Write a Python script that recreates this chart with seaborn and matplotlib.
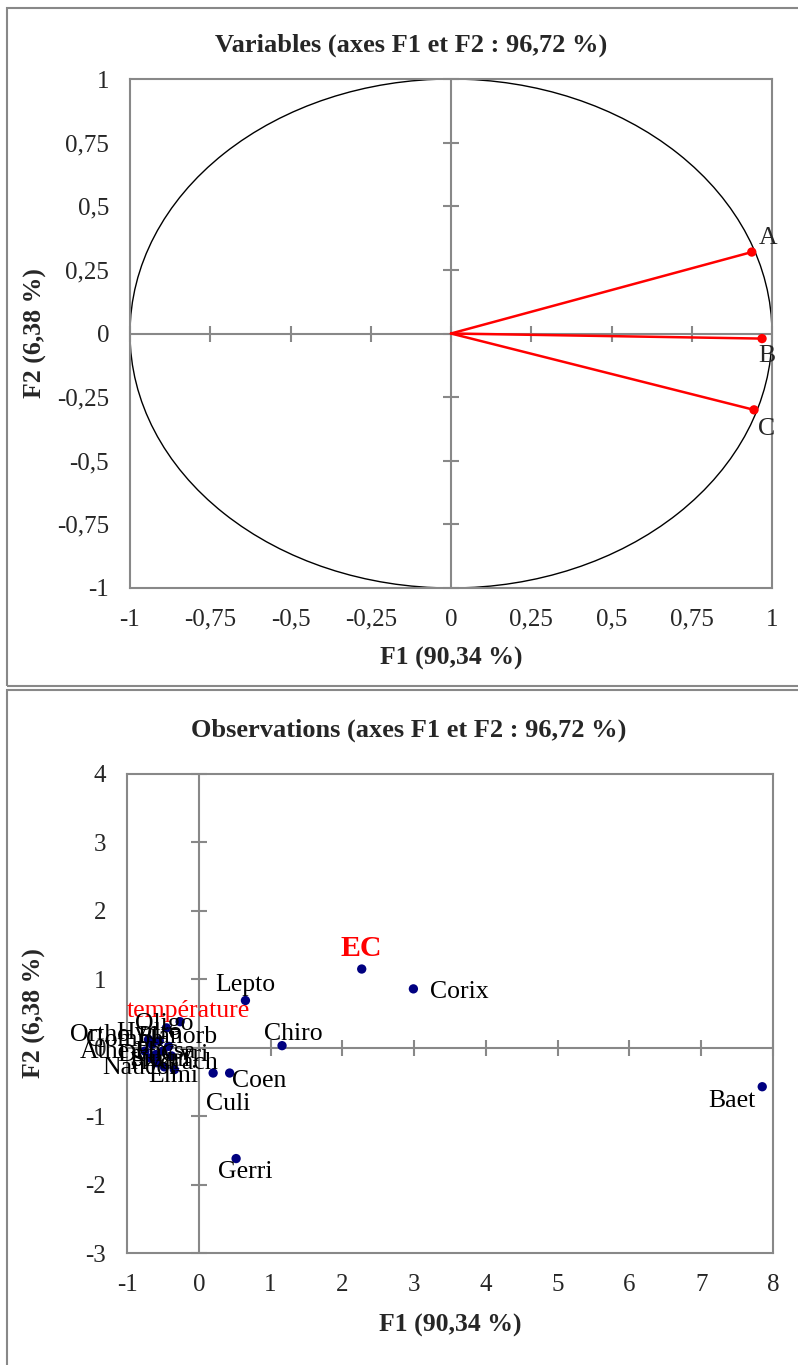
import numpy as np
import pandas as pd
import matplotlib
matplotlib.use("Agg")
import matplotlib.pyplot as plt
from matplotlib.patches import Rectangle, Circle
import seaborn as sns

# ==========================================================
# Data
# ==========================================================

var_names = ["A", "B", "C"]
var_f1 = [0.937, 0.969, 0.944]
var_f2 = [0.32, -0.02, -0.30]

obs_names = ["Baet", "Corix", "EC", "Chiro", "Lepto", "Coen", "Culi", "Gerri",
             "température", "Elmi", "Oligo", "Ortho", "Athe", "Hydro", "Dyti",
             "Physa", "Planorb", "Simul", "Gyri", "Naucor", "Hydrach", "Gomph"]
obs_f1 = [7.85, 2.99, 2.27, 1.16, 0.65, 0.43, 0.20, 0.52,
          -0.26, -0.34, -0.45, -0.65, -0.75, -0.55, -0.60,
          -0.50, -0.42, -0.68, -0.38, -0.58, -0.48, -0.70]
obs_f2 = [-0.57, 0.86, 1.15, 0.03, 0.69, -0.37, -0.37, -1.62,
          0.38, -0.32, 0.29, 0.05, -0.05, 0.10, -0.10,
          -0.05, 0.02, -0.15, -0.12, -0.22, -0.28, 0.12]

top_ticks = [-1, -0.75, -0.5, -0.25, 0, 0.25, 0.5, 0.75, 1]
bot_xticks = [-1, 0, 1, 2, 3, 4, 5, 6, 7, 8]
bot_yticks = [-3, -2, -1, 0, 1, 2, 3, 4]

title_top = "Variables (axes F1 et F2 : 96,72 %)"
title_bot = "Observations (axes F1 et F2 : 96,72 %)"
xlab = "F1 (90,34 %)"
ylab = "F2 (6,38 %)"

# label offsets in pixels (dx, dy)
var_off = {"A": (16, 14), "B": (5, -17), "C": (13, -19)}
obs_off = {"Baet": (-30, -14), "Corix": (46, -3), "EC": (0, 21), "Chiro": (11, 12),
           "Lepto": (0, 15), "Coen": (30, -8), "Culi": (15, -31), "Gerri": (9, -13),
           "température": (8, 11), "Elmi": (-1, -6), "Oligo": (-2, 4),
           "Ortho": (-52, 9), "Athe": (-40, -1), "Hydro": (-10, 8), "Dyti": (-16, 0),
           "Physa": (2, -1), "Planorb": (9, 9), "Simul": (10, -2), "Gyri": (13, 1),
           "Naucor": (-17, -5), "Hydrach": (9, 4), "Gomph": (-24, 0)}

# ==========================================================
# Style
# ==========================================================

sns.set_style("white")
plt.rcParams["font.family"] = ["Liberation Serif", "DejaVu Serif"]

GREY = "#888888"
NAVY = "#000080"
FS_TICK = 18
FS_LAB = 18.5
FS_TITLE = 19

W, H = 798, 1365
fig = plt.figure(figsize=(W / 100, H / 100), dpi=100)


def fmt(v):
    return f"{v:g}".replace(".", ",")


def setup_axes(ax, xticks, yticks):
    ax.set_xlim(xticks[0], xticks[-1])
    ax.set_ylim(yticks[0], yticks[-1])
    ax.set_xticks(xticks)
    ax.set_yticks(yticks)
    ax.set_xticklabels([fmt(v) for v in xticks], fontsize=FS_TICK)
    ax.set_yticklabels([fmt(v) for v in yticks], fontsize=FS_TICK)
    ax.tick_params(length=0, pad=15)
    for sp in ax.spines.values():
        sp.set_color(GREY)
        sp.set_linewidth(1.5)
        sp.set_visible(True)
    # axis lines through zero with crossing ticks
    ax.axhline(0, color=GREY, lw=1.5, zorder=1)
    ax.axvline(0, color=GREY, lw=1.5, zorder=1)
    ax.plot(xticks, [0] * len(xticks), ls="none", marker="|", ms=12,
            mew=1.5, color=GREY, zorder=1, clip_on=False)
    ax.plot([0] * len(yticks), yticks, ls="none", marker="_", ms=12,
            mew=1.5, color=GREY, zorder=1, clip_on=False)


# ==========================================================
# Panel frames
# ==========================================================

fig.add_artist(Rectangle((7 / W, 1 - 686 / H), 1.0, (686 - 8) / H,
                         transform=fig.transFigure, fill=False,
                         edgecolor=GREY, lw=1.5))
fig.add_artist(Rectangle((7 / W, -0.01), 1.0, 1 - 690 / H + 0.01,
                         transform=fig.transFigure, fill=False,
                         edgecolor=GREY, lw=1.5))

# ==========================================================
# 1. Variables
# ==========================================================

ax1 = fig.add_axes([130 / W, 1 - 588 / H, 642 / W, 509 / H])
setup_axes(ax1, top_ticks, top_ticks)

ax1.add_patch(Circle((0, 0), 1, fill=False, edgecolor="black", lw=1, zorder=2))

for f1, f2 in zip(var_f1, var_f2):
    ax1.plot([0, f1], [0, f2], color="red", lw=1.8, zorder=3)

df_var = pd.DataFrame({"F1": var_f1, "F2": var_f2, "name": var_names})
sns.scatterplot(data=df_var, x="F1", y="F2", color="red", s=45,
                edgecolor="none", ax=ax1, zorder=4, legend=False)
ax1.set_xlabel(xlab, fontsize=FS_LAB, fontweight="bold")
ax1.set_ylabel(ylab, fontsize=FS_LAB, fontweight="bold")
ax1.xaxis.set_label_coords(0.5, -0.115)
ax1.yaxis.set_label_coords(-0.13, 0.5)

for n, f1, f2 in zip(var_names, var_f1, var_f2):
    ax1.annotate(n, (f1, f2), xytext=var_off[n], textcoords="offset pixels",
                 ha="center", va="center", fontsize=FS_LAB, annotation_clip=False)

fig.text(411 / W, 1 - 45 / H, title_top, ha="center", va="center",
         fontsize=FS_TITLE, fontweight="bold")

# ==========================================================
# 2. Observations
# ==========================================================

ax2 = fig.add_axes([127 / W, 1 - 1253 / H, 646 / W, 479 / H])
setup_axes(ax2, bot_xticks, bot_yticks)

df_obs = pd.DataFrame({"F1": obs_f1, "F2": obs_f2, "name": obs_names})
sns.scatterplot(data=df_obs, x="F1", y="F2", color=NAVY, s=45,
                edgecolor="none", ax=ax2, zorder=4, legend=False)
ax2.set_xlabel(xlab, fontsize=FS_LAB, fontweight="bold")
ax2.set_ylabel(ylab, fontsize=FS_LAB, fontweight="bold")
ax2.xaxis.set_label_coords(0.5, -0.127)
ax2.yaxis.set_label_coords(-0.125, 0.5)

for n, f1, f2 in zip(obs_names, obs_f1, obs_f2):
    color = "red" if n in ("EC", "température") else "black"
    weight = "bold" if n == "EC" else "normal"
    size = FS_LAB + 3 if n == "EC" else FS_LAB
    ax2.annotate(n, (f1, f2), xytext=obs_off[n], textcoords="offset pixels",
                 ha="center", va="center", fontsize=size, color=color,
                 fontweight=weight, annotation_clip=False, zorder=5)

fig.text(409 / W, 1 - 730 / H, title_bot, ha="center", va="center",
         fontsize=FS_TITLE, fontweight="bold")

fig.savefig("out.png", dpi=100)
